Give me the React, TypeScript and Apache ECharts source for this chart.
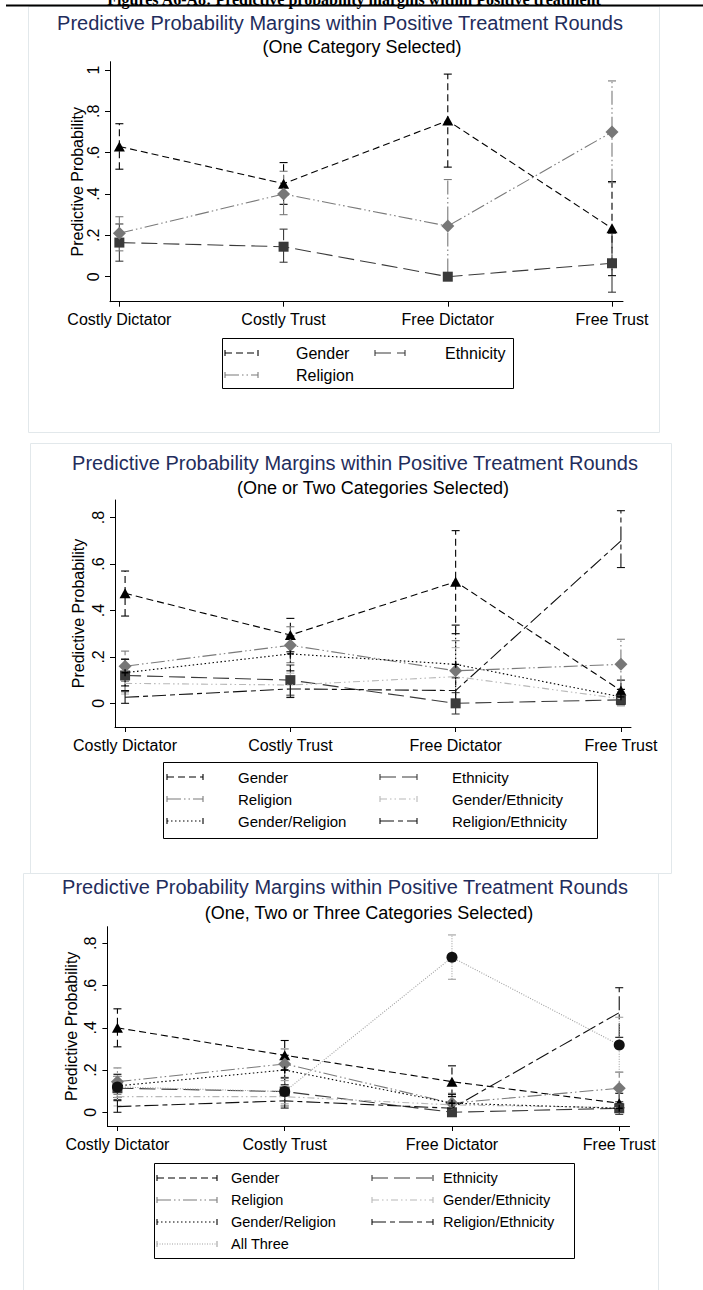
import React, { useEffect, useRef } from 'react';
import * as echarts from 'echarts';

const categories = ['Costly Dictator', 'Costly Trust', 'Free Dictator', 'Free Trust'];
const catIdx = [0, 1, 2, 3];
const yTicksA = [0, 0.2, 0.4, 0.6, 0.8, 1];
const yTicksB = [0, 0.2, 0.4, 0.6, 0.8];

const headerText = 'Figures A6-A8: Predictive probability margins within Positive treatment';
const mainTitle = 'Predictive Probability Margins within Positive Treatment Rounds';
const subTitles = ['(One Category Selected)', '(One or Two Categories Selected)', '(One, Two or Three Categories Selected)'];
const yName = 'Predictive Probability';

// ---- Panel 1: One category ----
const p1Gender = [0.63, 0.45, 0.755, 0.234];
const p1GenderLo = [0.52, 0.35, 0.53, 0.005];
const p1GenderHi = [0.74, 0.552, 0.98, 0.46];
const p1Ethnicity = [0.165, 0.145, 0.0, 0.065];
const p1EthnicityLo = [0.075, 0.07, 0.0, -0.075];
const p1EthnicityHi = [0.255, 0.23, 0.0, 0.21];
const p1Religion = [0.21, 0.4, 0.245, 0.7];
const p1ReligionLo = [0.125, 0.3, 0.02, 0.455];
const p1ReligionHi = [0.29, 0.51, 0.47, 0.947];

// ---- Panel 2: One or two ----
const p2Gender = [0.474, 0.294, 0.524, 0.055];
const p2GenderLo = [0.376, 0.222, 0.3, 0.01];
const p2GenderHi = [0.57, 0.366, 0.744, 0.1];
const p2Ethnicity = [0.12, 0.1, 0.0, 0.015];
const p2EthnicityLo = [0.05, 0.035, -0.046, -0.01];
const p2EthnicityHi = [0.19, 0.165, 0.046, 0.04];
const p2Religion = [0.16, 0.25, 0.14, 0.168];
const p2ReligionLo = [0.095, 0.175, 0.005, 0.06];
const p2ReligionHi = [0.225, 0.33, 0.27, 0.276];
const p2GenEth = [0.086, 0.079, 0.115, 0.02];
const p2GenEthLo = [0.04, 0.03, -0.01, -0.01];
const p2GenEthHi = [0.13, 0.13, 0.24, 0.05];
const p2GenRel = [0.132, 0.213, 0.168, 0.028];
const p2GenRelLo = [0.075, 0.14, 0.0, -0.005];
const p2GenRelHi = [0.19, 0.29, 0.337, 0.06];
const p2RelEth = [0.026, 0.062, 0.055, 0.7];
const p2RelEthLo = [0.0, 0.025, 0.0, 0.585];
const p2RelEthHi = [0.055, 0.1, 0.11, 0.83];

// ---- Panel 3: One, two or three ----
const p3Gender = [0.4, 0.27, 0.145, 0.043];
const p3GenderLo = [0.31, 0.2, 0.075, 0.0];
const p3GenderHi = [0.49, 0.34, 0.22, 0.09];
const p3Ethnicity = [0.114, 0.098, 0.0, 0.019];
const p3EthnicityLo = [0.06, 0.03, 0.0, -0.01];
const p3EthnicityHi = [0.17, 0.165, 0.0, 0.05];
const p3Religion = [0.145, 0.229, 0.043, 0.114];
const p3ReligionLo = [0.085, 0.16, 0.0, 0.04];
const p3ReligionHi = [0.21, 0.3, 0.09, 0.19];
const p3GenEth = [0.074, 0.074, 0.035, 0.022];
const p3GenEthLo = [0.03, 0.03, 0.0, 0.0];
const p3GenEthHi = [0.12, 0.12, 0.07, 0.045];
const p3GenRel = [0.125, 0.2, 0.043, 0.019];
const p3GenRelLo = [0.07, 0.13, 0.005, 0.0];
const p3GenRelHi = [0.18, 0.27, 0.085, 0.04];
const p3RelEth = [0.027, 0.054, 0.019, 0.472];
const p3RelEthLo = [0.0, 0.02, 0.0, 0.355];
const p3RelEthHi = [0.055, 0.09, 0.04, 0.59];
const p3AllThree = [0.12, 0.098, 0.734, 0.319];
const p3AllThreeLo = [0.07, 0.04, 0.63, 0.19];
const p3AllThreeHi = [0.17, 0.15, 0.84, 0.45];

const FONT = '"Liberation Sans", Arial, sans-serif';
const NAVY = '#1f2d5c';
const PLUS = 'path://M4,0H6V4H10V6H6V10H4V6H0V4H4Z';

type St = { color: string; dash: number[]; symbol: string; size: any; marker: string };
const STYLE: Record<string, St> = {
  'Gender': { color: '#000000', dash: [7, 4], symbol: 'triangle', size: [11, 10], marker: '#000000' },
  'Ethnicity': { color: '#3a3a3a', dash: [16, 6], symbol: 'rect', size: 10, marker: '#3a3a3a' },
  'Religion': { color: '#7a7a7a', dash: [14, 3, 1.5, 3, 1.5, 3], symbol: 'diamond', size: 13, marker: '#777777' },
  'Gender/Ethnicity': { color: '#b8b8b8', dash: [7, 3, 1.5, 3, 1.5, 3], symbol: 'none', size: 0, marker: '#b8b8b8' },
  'Gender/Religion': { color: '#000000', dash: [1.5, 2.5], symbol: PLUS, size: 7, marker: '#000000' },
  'Religion/Ethnicity': { color: '#111111', dash: [14, 4, 5, 4], symbol: 'none', size: 0, marker: '#111111' },
  'All Three': { color: '#a0a0a0', dash: [1, 1.5], symbol: 'circle', size: 11, marker: '#111111' },
};

type Group = { name: string; mean: number[]; lo: number[]; hi: number[] };

const panels = [
  {
    groups: [
      { name: 'Gender', mean: p1Gender, lo: p1GenderLo, hi: p1GenderHi },
      { name: 'Ethnicity', mean: p1Ethnicity, lo: p1EthnicityLo, hi: p1EthnicityHi },
      { name: 'Religion', mean: p1Religion, lo: p1ReligionLo, hi: p1ReligionHi },
    ] as Group[],
    grid: { left: 110, top: 61.7, width: 513, height: 240 },
    x: [-0.057, 3.067], y: [-0.121, 1.04], yTicks: yTicksA,
    frame: [28, 6, 631, 426],
    titleX: 340, titleY: 23, subX: 362, subY: 47, yNameX: 77,
    box: [222, 338, 291, 50], rows: [353, 375], samples: [[225, 258], [375, 405]], texts: [296, 445], lf: 16,
  },
  {
    groups: [
      { name: 'Gender', mean: p2Gender, lo: p2GenderLo, hi: p2GenderHi },
      { name: 'Ethnicity', mean: p2Ethnicity, lo: p2EthnicityLo, hi: p2EthnicityHi },
      { name: 'Religion', mean: p2Religion, lo: p2ReligionLo, hi: p2ReligionHi },
      { name: 'Gender/Ethnicity', mean: p2GenEth, lo: p2GenEthLo, hi: p2GenEthHi },
      { name: 'Gender/Religion', mean: p2GenRel, lo: p2GenRelLo, hi: p2GenRelHi },
      { name: 'Religion/Ethnicity', mean: p2RelEth, lo: p2RelEthLo, hi: p2RelEthHi },
    ] as Group[],
    grid: { left: 115, top: 500, width: 516, height: 227 },
    x: [-0.061, 3.061], y: [-0.102, 0.876], yTicks: yTicksB,
    frame: [30, 443, 641, 430],
    titleX: 355, titleY: 463, subX: 373, subY: 488, yNameX: 78,
    box: [163, 762, 434, 76], rows: [777, 799, 821], samples: [[167, 203], [380, 417]], texts: [238, 452], lf: 15,
  },
  {
    groups: [
      { name: 'Gender', mean: p3Gender, lo: p3GenderLo, hi: p3GenderHi },
      { name: 'Ethnicity', mean: p3Ethnicity, lo: p3EthnicityLo, hi: p3EthnicityHi },
      { name: 'Religion', mean: p3Religion, lo: p3ReligionLo, hi: p3ReligionHi },
      { name: 'Gender/Ethnicity', mean: p3GenEth, lo: p3GenEthLo, hi: p3GenEthHi },
      { name: 'Gender/Religion', mean: p3GenRel, lo: p3GenRelLo, hi: p3GenRelHi },
      { name: 'Religion/Ethnicity', mean: p3RelEth, lo: p3RelEthLo, hi: p3RelEthHi },
      { name: 'All Three', mean: p3AllThree, lo: p3AllThreeLo, hi: p3AllThreeHi },
    ] as Group[],
    grid: { left: 107.4, top: 926.7, width: 522.2, height: 199.3 },
    x: [-0.06, 3.062], y: [-0.065, 0.879], yTicks: yTicksB,
    frame: [23, 873, 635, 430],
    titleX: 345, titleY: 887, subX: 369, subY: 913, yNameX: 71,
    box: [154, 1163, 420, 95], rows: [1178, 1200, 1222, 1244], samples: [[157, 217], [372, 433]], texts: [231, 443], lf: 14.5,
  },
];

const fmtY = (v: number) => {
  const r = Math.round(v * 10) / 10;
  if (r === 0) return '0';
  if (r === 1) return '1';
  return r.toString().replace(/^0\./, '.');
};

export default function App() {
  const ref = useRef<HTMLDivElement>(null);
  useEffect(() => {
    if (!ref.current) return;
    const chart = echarts.init(ref.current, null, { renderer: 'svg' });
    const grid: any[] = [];
    const xAxis: any[] = [];
    const yAxis: any[] = [];
    const series: any[] = [];
    const graphic: any[] = [];

    graphic.push({
      type: 'text', x: 354, y: 7, z: 1,
      style: { text: headerText, fontFamily: '"Liberation Serif", serif', fontWeight: 'bold', fontSize: 16, fill: '#000', align: 'center', verticalAlign: 'bottom' },
    });
    graphic.push({ type: 'line', shape: { x1: 6, y1: 5.5, x2: 703, y2: 5.5 }, style: { stroke: '#000', lineWidth: 2 }, z: 2 });

    panels.forEach((p, pi) => {
      grid.push({ ...p.grid, containLabel: false });
      xAxis.push({
        type: 'value', gridIndex: pi, min: p.x[0], max: p.x[1],
        axisLine: { show: true, onZero: false, lineStyle: { color: '#000', width: 1 } },
        axisTick: { show: true, length: 5, customValues: catIdx, lineStyle: { color: '#000' } },
        axisLabel: { customValues: catIdx, formatter: (v: number) => categories[Math.round(v)], fontSize: 16, color: '#000', fontFamily: FONT, margin: 10 },
        splitLine: { show: false },
      });
      yAxis.push({
        type: 'value', gridIndex: pi, min: p.y[0], max: p.y[1],
        axisLine: { show: true, onZero: false, lineStyle: { color: '#000', width: 1 } },
        axisTick: { show: true, length: 5, customValues: p.yTicks, lineStyle: { color: '#000' } },
        axisLabel: { customValues: p.yTicks, formatter: fmtY, rotate: 90, fontSize: 16, color: '#000', fontFamily: FONT, margin: 9 },
        splitLine: { show: false },
      });

      p.groups.forEach((g, gi) => {
        const s = STYLE[g.name];
        series.push({
          type: 'custom', name: g.name + ' CI', xAxisIndex: pi, yAxisIndex: pi, z: 2 + gi * 0.01, silent: true,
          data: g.mean.map((_, i) => [i, g.lo[i], g.hi[i]]),
          encode: { x: 0, y: [1, 2] },
          renderItem: (params: any, api: any) => {
            const xv = api.value(0);
            const a = api.coord([xv, api.value(1)]);
            const b = api.coord([xv, api.value(2)]);
            const cw = 4;
            const st = { stroke: s.color, lineWidth: 1.1, lineDash: s.dash, fill: null };
            return {
              type: 'group',
              children: [
                { type: 'line', shape: { x1: a[0], y1: a[1], x2: b[0], y2: b[1] }, style: st },
                { type: 'line', shape: { x1: a[0] - cw, y1: a[1], x2: a[0] + cw, y2: a[1] }, style: { stroke: s.color, lineWidth: 1.1 } },
                { type: 'line', shape: { x1: b[0] - cw, y1: b[1], x2: b[0] + cw, y2: b[1] }, style: { stroke: s.color, lineWidth: 1.1 } },
              ],
            };
          },
        });
        series.push({
          type: 'line', name: g.name, xAxisIndex: pi, yAxisIndex: pi, z: 3 + gi * 0.01,
          data: g.mean.map((m, i) => [i, m]),
          symbol: s.symbol, symbolSize: s.size, showSymbol: s.symbol !== 'none',
          itemStyle: { color: s.marker, borderWidth: 0 },
          lineStyle: { color: s.color, width: 1.1, type: s.dash },
          silent: true,
        });
      });

      // frame
      graphic.push({ type: 'rect', shape: { x: p.frame[0] + 0.5, y: p.frame[1] + 0.5, width: p.frame[2], height: p.frame[3] }, style: { fill: 'none', stroke: '#e2e8eb', lineWidth: 1 }, z: 0 });
      // titles
      graphic.push({ type: 'text', x: p.titleX, y: p.titleY, style: { text: mainTitle, fontFamily: FONT, fontSize: 20, fill: NAVY, align: 'center', verticalAlign: 'middle' } });
      graphic.push({ type: 'text', x: p.subX, y: p.subY, style: { text: subTitles[pi], fontFamily: FONT, fontSize: 18, fill: '#000', align: 'center', verticalAlign: 'middle' } });
      // y name
      graphic.push({
        type: 'text', x: p.yNameX, y: p.grid.top + p.grid.height / 2, rotation: Math.PI / 2,
        style: { text: yName, fontFamily: FONT, fontSize: 16, fill: '#000', align: 'center', verticalAlign: 'middle' },
      });
      // legend
      graphic.push({ type: 'rect', shape: { x: p.box[0] + 0.5, y: p.box[1] + 0.5, width: p.box[2], height: p.box[3] }, style: { fill: '#fff', stroke: '#000', lineWidth: 1 }, z: 5 });
      p.groups.forEach((g, gi) => {
        const s = STYLE[g.name];
        const row = Math.floor(gi / 2);
        const col = gi % 2;
        const y = p.rows[row];
        const [x1, x2] = p.samples[col];
        const ls = { stroke: s.color, lineWidth: 1.1, lineDash: s.dash, fill: 'none' };
        graphic.push({ type: 'line', z: 6, shape: { x1, y1: y, x2, y2: y }, style: ls });
        graphic.push({ type: 'line', z: 6, shape: { x1: x1, y1: y - 3, x2: x1, y2: y + 3 }, style: { stroke: s.color, lineWidth: 1.1 } });
        graphic.push({ type: 'line', z: 6, shape: { x1: x2, y1: y - 3, x2: x2, y2: y + 3 }, style: { stroke: s.color, lineWidth: 1.1 } });
        graphic.push({ type: 'text', z: 6, x: p.texts[col], y, style: { text: g.name, fontFamily: FONT, fontSize: p.lf, fill: '#000', align: 'left', verticalAlign: 'middle' } });
      });
    });

    chart.setOption({
      animation: false,
      backgroundColor: '#ffffff',
      grid, xAxis, yAxis, series, graphic,
    });
    return () => chart.dispose();
  }, []);
  return <div ref={ref} style={{ position: 'absolute', left: 0, top: 0, width: 703, height: 1290 }} />;
}
